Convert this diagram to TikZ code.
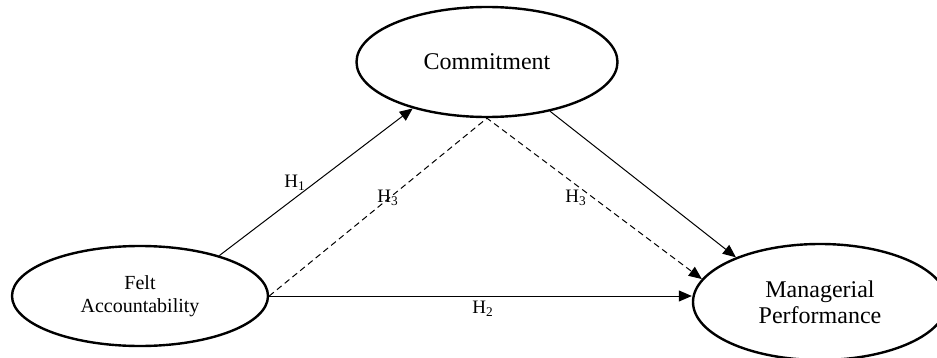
\documentclass[tikz,border=0pt]{standalone}
\usepackage{fontspec}
\setmainfont{Liberation Serif}
\usetikzlibrary{arrows.meta, shapes.geometric}

\begin{document}
\begin{tikzpicture}[
    x=0.5pt, y=-0.5pt,
    construct/.style={
        ellipse, draw, line width=1.2pt, inner sep=0pt,
        align=center
    },
    arrow/.style={-{Triangle[length=6.5pt, width=5.5pt]}, line width=0.5pt},
    hypo/.style={font=\fontsize{9.5}{11}\selectfont, inner sep=1pt}
]
\useasboundingbox (0,0) rectangle (937,358);

% CONSTRUCTS
\node[construct, minimum width=128pt, minimum height=50pt,
      font=\fontsize{10}{11.5}\selectfont] at (140, 296) (felt) {Felt\\Accountability};
\node[construct, minimum width=130.5pt, minimum height=55pt,
      font=\fontsize{12}{13}\selectfont] at (487, 62) (commit) {Commitment};
\node[construct, minimum width=127pt, minimum height=58pt,
      font=\fontsize{12}{13}\selectfont] at (820, 302) (perf) {Managerial\\Performance};

% DIRECT PATHS
\draw[arrow] (felt.27) -- (commit.212);
\draw[arrow] (commit.322) -- (perf.152);
\draw[arrow] (felt.east) -- (felt.east -| perf.west);

% MEDIATION PATH
\draw[arrow, dash pattern=on 3pt off 2pt] (felt.east) -- (commit.south) -- (perf.169.5);

% HYPOTHESIS LABELS
\node[hypo] at (295, 183) (h1) {H\textsubscript{1}};
\node[hypo] at (483, 309) (h2) {H\textsubscript{2}};
\node[hypo] at (388, 198) (h3a) {H\textsubscript{3}};
\node[hypo] at (576, 198) (h3b) {H\textsubscript{3}};

\end{tikzpicture}
\end{document}
